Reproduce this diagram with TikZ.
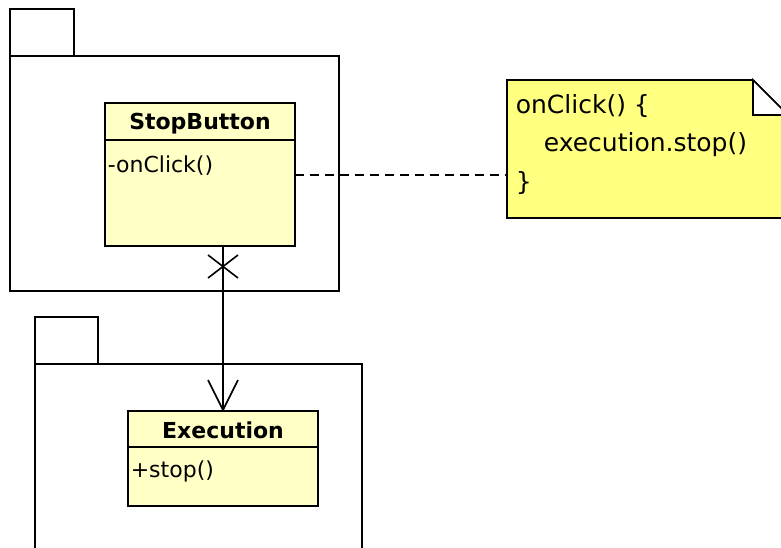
\documentclass[tikz,border=0pt]{standalone}
\usepackage{fontspec}
\setmainfont{DejaVu Sans}
\begin{document}
\begin{tikzpicture}[x=1pt,y=-1pt,
  line width=1.6pt,
  pkg/.style={draw=black, fill=white},
  umlclass/.style={draw=black, fill=classfill},
  notebox/.style={draw=black, fill=notefill},
  cname/.style={font=\fontsize{22}{26}\selectfont\bfseries, inner sep=0pt, anchor=base},
  cmember/.style={font=\fontsize{22}{26}\selectfont, inner sep=0pt, anchor=base west},
  ntext/.style={font=\fontsize{25}{30}\selectfont, inner sep=0pt, anchor=base west},
  connector/.style={draw=black, line width=1.6pt},
]
\definecolor{classfill}{RGB}{255,255,198}
\definecolor{notefill}{RGB}{255,255,128}

\useasboundingbox (0,0) rectangle (781,548);
\clip (0,0) rectangle (781,548);
\fill[white] (0,0) rectangle (781,548);

% upper package with the button
\draw[pkg] (10,9) rectangle (74,56);
\draw[pkg] (10,56) rectangle (339,291);

% lower package with the execution
\draw[pkg] (35,317) rectangle (98,364);
\draw[pkg] (35,364) rectangle (362,560);

% class StopButton
\draw[umlclass] (105,103) rectangle (295,246);
\draw (105,140) -- (295,140);
\node[cname] (sbname) at (200,130) {StopButton};
\node[cmember] (sbop) at (107,173) {-onClick()};
\coordinate (sbbottom) at (223,246);
\coordinate (sbright) at (295,175);

% class Execution
\draw[umlclass] (128,411) rectangle (318,506);
\draw (128,447) -- (318,447);
\node[cname] (exname) at (223,438) {Execution};
\node[cmember] (exop) at (130,477) {+stop()};
\coordinate (extop) at (223,410);

% note with its folded corner
\draw[notebox] (507,80) -- (753,80) -- (788,115) -- (788,218) -- (507,218) -- cycle;
\draw[fill=white] (753,80) -- (753,115) -- (788,115) -- cycle;
\coordinate (noteleft) at (507,175);
\node[ntext] (n1) at (515,114) {onClick() \{};
\node[ntext] (n2) at (543,152) {execution.stop()};
\node[ntext] (n3) at (515,190) {\}};

% note attachment
\draw[connector, dash pattern=on 9pt off 6pt] (sbright) -- (noteleft);

% navigable association, non-navigable at the source end
\draw[connector] (sbbottom) -- (extop);
\draw[connector] (208,255) -- (238,278);
\draw[connector] (238,255) -- (208,278);
\draw[connector, line join=miter] (208,380) -- (extop) -- (238,380);
\end{tikzpicture}
\end{document}
